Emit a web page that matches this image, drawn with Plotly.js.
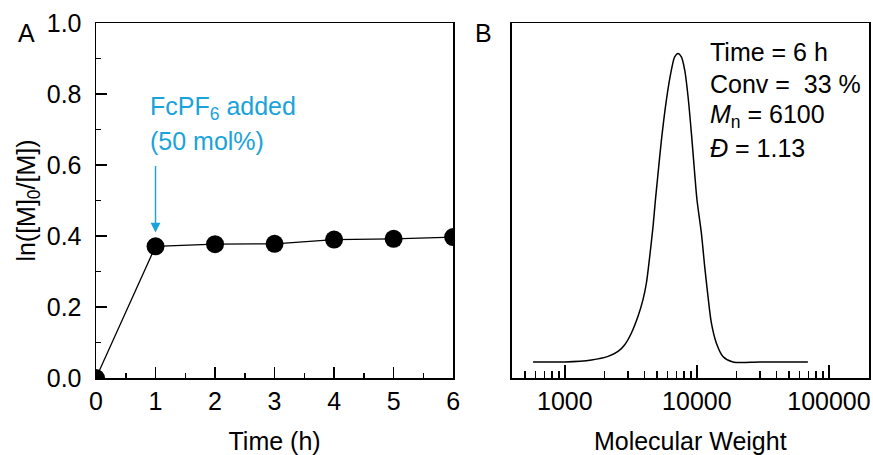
<!DOCTYPE html>
<html><head><meta charset="utf-8">
<script src="https://cdn.plot.ly/plotly-3.0.1.min.js"></script>
<style>html,body{margin:0;padding:0;background:#fff}#chart{width:873px;height:455px}</style>
</head><body><div id="chart"></div>
<script>
// Panel A: kinetics
const timeH = [0, 1, 2, 3, 4, 5, 6];
const lnRatio = [0, 0.371, 0.377, 0.378, 0.390, 0.392, 0.397];
// Panel B: SEC trace (normalised signal)
const mwValues = [575, 1000, 1592, 2126, 2529, 2843, 3195, 3584, 3908, 4148, 4395, 4655, 4853, 5024, 5388, 5875, 6408, 6790, 7195, 7630, 8090, 8575, 9090, 9620, 10020, 10820, 11460, 12140, 12880, 14050, 15750, 18750, 30000, 69200];
const secSignal = [0, 0, 0.0065, 0.018, 0.034, 0.056, 0.094, 0.148, 0.202, 0.256, 0.342, 0.439, 0.525, 0.590, 0.719, 0.849, 0.946, 0.989, 1.0, 0.989, 0.946, 0.860, 0.741, 0.612, 0.525, 0.417, 0.309, 0.212, 0.126, 0.061, 0.018, 0, 0, 0];
// Tick labels
const mwTickVals = [1000, 10000, 100000];
const mwTickText = ['1000', '10000', '100000'];
const mwMinorDigits = [2, 3, 4, 5, 6, 7, 8, 9];
const mwMinorDecades = [100, 1000, 10000];
const mwMinorVals = [];
mwMinorDecades.forEach(d => mwMinorDigits.forEach(k => mwMinorVals.push(k * d)));

const fontFam = '"Liberation Sans", Arial, Helvetica, sans-serif';
const cyan = '#1aa3d9';
const FS = 25;
const W = 873, H = 455, ML = 96, MR = 3.7, MT = 22.7, MB = 76.7;
const PW = W - ML - MR, PH = H - MT - MB;
const px = v => (v - ML) / PW;
const py = v => (H - MB - v) / PH;

const traces = [
  {x: timeH, y: lnRatio, type: 'scatter', mode: 'lines+markers', xaxis: 'x', yaxis: 'y',
   line: {color: '#000', width: 1.3}, marker: {color: '#000', size: 18}, cliponaxis: true, hoverinfo: 'none'},
  {x: mwValues, y: secSignal, type: 'scatter', mode: 'lines', xaxis: 'x2', yaxis: 'y2',
   line: {color: '#000', width: 1.5, shape: 'spline', smoothing: 0.8}, hoverinfo: 'none'}
];

const axBase = {showgrid: false, zeroline: false, showline: true, linecolor: '#000', linewidth: 1.5,
  mirror: true, ticks: 'inside', tickcolor: '#000', tickwidth: 1.5, tickfont: {size: FS, color: '#000'}};

const layout = {
  width: W, height: H,
  margin: {l: ML, r: MR, t: MT, b: MB, pad: 0},
  paper_bgcolor: '#fff', plot_bgcolor: '#fff',
  font: {family: fontFam, color: '#000', size: FS},
  showlegend: false,
  xaxis: Object.assign({}, axBase, {domain: [0, 0.462], range: [0, 6], dtick: 1, ticklen: 10.7,
    automargin: 'bottom',
    minor: {ticks: 'inside', dtick: 0.5, ticklen: 5, tickwidth: 1.5, tickcolor: '#000'},
    title: {text: 'Time (h)', font: {size: FS}, standoff: 19}, anchor: 'y'}),
  yaxis: Object.assign({}, axBase, {domain: [0, 1], range: [0, 1], dtick: 0.2, tickformat: '.1f', ticklen: 10.7,
    ticklabelstandoff: 8, automargin: 'left',
    minor: {ticks: 'inside', dtick: 0.1, ticklen: 5.3, tickwidth: 1.5, tickcolor: '#000'},
    title: {text: 'ln([M]<sub>0</sub>/[M])', font: {size: FS}, standoff: 4}, anchor: 'x'}),
  xaxis2: Object.assign({}, axBase, {domain: [0.5376, 1], type: 'log', range: [2.597, 5.303],
    tickmode: 'array', tickvals: mwTickVals, ticktext: mwTickText, ticklen: 12.7, automargin: 'bottom',
    minor: {ticks: 'inside', tickmode: 'array', tickvals: mwMinorVals, ticklen: 6.7, tickwidth: 1.5, tickcolor: '#000'},
    title: {text: 'Molecular Weight', font: {size: FS}, standoff: 19}, anchor: 'y2'}),
  yaxis2: Object.assign({}, axBase, {domain: [0, 1], range: [-0.052, 1.099], ticks: '', showticklabels: false, anchor: 'x2'}),
  annotations: [
    {xref: 'paper', yref: 'paper', x: px(26), y: py(32.5), text: 'A', showarrow: false, xanchor: 'center', yanchor: 'middle', font: {size: FS}},
    {xref: 'paper', yref: 'paper', x: px(484), y: py(32.5), text: 'B', showarrow: false, xanchor: 'center', yanchor: 'middle', font: {size: FS}},
    {xref: 'paper', yref: 'paper', x: px(148), y: py(108), text: 'FcPF<sub>6</sub> added', showarrow: false, xanchor: 'left', yanchor: 'middle', font: {size: FS, color: cyan}},
    {xref: 'paper', yref: 'paper', x: px(148), y: py(141), text: '(50 mol%)', showarrow: false, xanchor: 'left', yanchor: 'middle', font: {size: FS, color: cyan}},
    {xref: 'x', yref: 'y', x: 1, y: 0.41, ax: 0, ay: -68, text: '', showarrow: true, arrowhead: 2, arrowsize: 1.4, arrowwidth: 1.4, arrowcolor: cyan, standoff: 0},
    {xref: 'paper', yref: 'paper', x: px(708), y: py(51.7), text: 'Time = 6 h', showarrow: false, xanchor: 'left', yanchor: 'middle', font: {size: FS}},
    {xref: 'paper', yref: 'paper', x: px(708), y: py(84.2), text: 'Conv =\u00a0\u00a033 %', showarrow: false, xanchor: 'left', yanchor: 'middle', font: {size: FS}},
    {xref: 'paper', yref: 'paper', x: px(708), y: py(115.5), text: '<i>M</i><sub>n</sub> = 6100', showarrow: false, xanchor: 'left', yanchor: 'middle', font: {size: FS}},
    {xref: 'paper', yref: 'paper', x: px(708), y: py(148), text: '<i>Đ</i> = 1.13', showarrow: false, xanchor: 'left', yanchor: 'middle', font: {size: FS}}
  ]
};

Plotly.newPlot('chart', traces, layout, {displayModeBar: false, staticPlot: true});
</script>
</body></html>
